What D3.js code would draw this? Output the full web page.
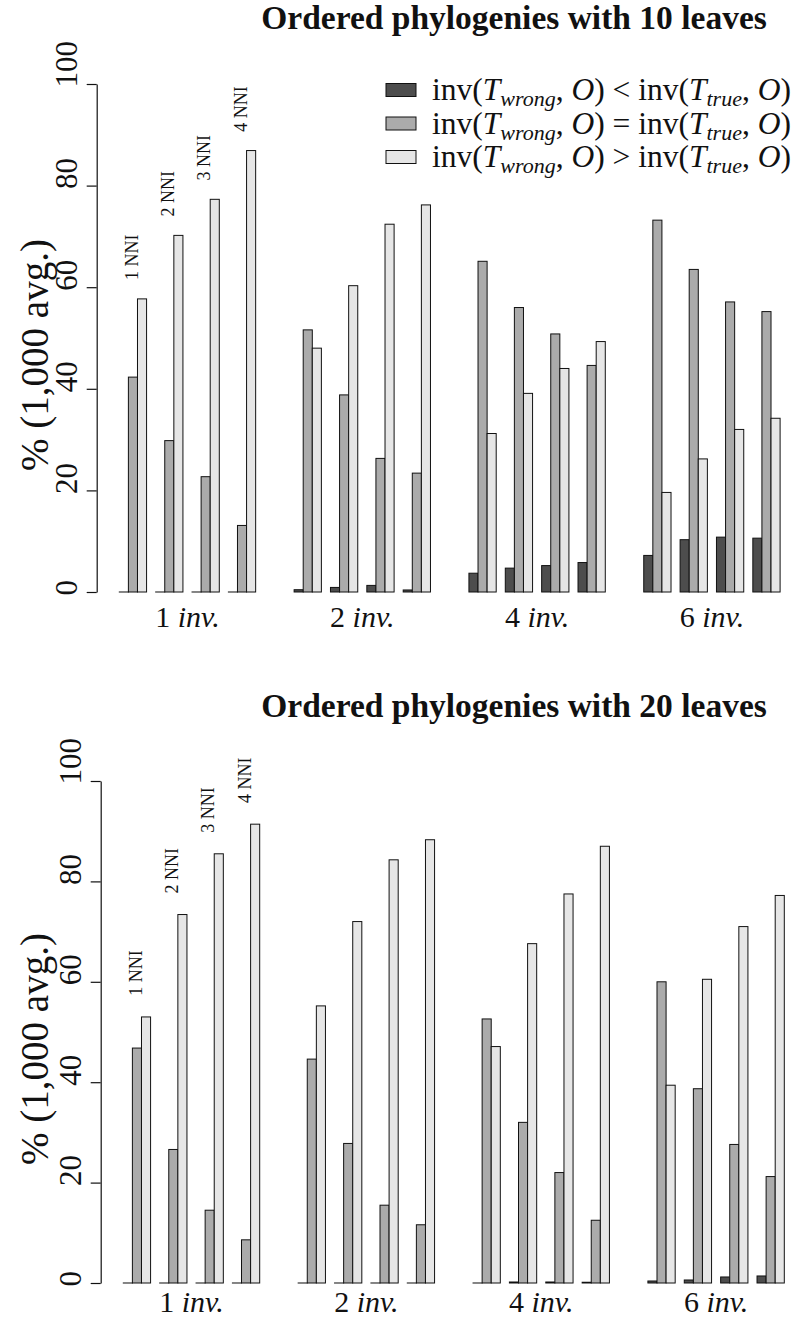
<!DOCTYPE html>
<html>
<head>
<meta charset="utf-8">
<script src="https://cdn.jsdelivr.net/npm/d3@7/dist/d3.min.js"></script>
<style>
  body { margin: 0; background: #fff; }
  text { font-family: "Liberation Serif", "Times New Roman", serif; fill: #111; }
</style>
</head>
<body>
<script>

var groups = ["1", "2", "4", "6"];            // number of inversions
var nni = ["1 NNI", "2 NNI", "3 NNI", "4 NNI"];
var series = ["less", "equal", "greater"];
var yTicks = [0, 20, 40, 60, 80, 100];

// 10 leaves, rows = inversions, cols = NNI
var less10 = [[0, 0, 0, 0], [0.45, 0.9, 1.3, 0.4], [3.7, 4.7, 5.2, 5.8], [7.2, 10.3, 10.8, 10.6]];
var equal10 = [[42.3, 29.8, 22.7, 13.1], [51.6, 38.8, 26.3, 23.4], [65.1, 56.0, 50.8, 44.6], [73.2, 63.5, 57.1, 55.2]];
var greater10 = [[57.7, 70.2, 77.3, 86.9], [48.0, 60.3, 72.4, 76.2], [31.2, 39.1, 44.0, 49.3], [19.6, 26.2, 32.0, 34.2]];

// 20 leaves
var less20 = [[0, 0, 0, 0], [0, 0, 0, 0], [0, 0.2, 0.2, 0.15], [0.4, 0.6, 1.2, 1.4]];
var equal20 = [[46.8, 26.6, 14.5, 8.6], [44.6, 27.8, 15.5, 11.6], [52.6, 32.0, 22.0, 12.5], [60.0, 38.7, 27.6, 21.2]];
var greater20 = [[53.0, 73.4, 85.5, 91.4], [55.2, 72.0, 84.3, 88.3], [47.1, 67.6, 77.5, 87.0], [39.4, 60.5, 71.0, 77.2]];

var colors = ["#4d4d4d", "#ababab", "#e6e6e6"];

var svg = d3.select("body").append("svg")
    .attr("width", 807)
    .attr("height", 1318);

svg.append("rect").attr("width", 807).attr("height", 1318).attr("fill", "#fff");

var panels = [{
    title: "Ordered phylogenies with 10 leaves",
    data: [less10, equal10, greater10],
    titleY: 29, yBase: 592, yTop: 84, axisX: 96.7, x0: 119.3, x1: 780.1,
    labelY: 627, nniOffset: 3.7, legend: true
}, {
    title: "Ordered phylogenies with 20 leaves",
    data: [less20, equal20, greater20],
    titleY: 717, yBase: 1283, yTop: 781, axisX: 100.7, x0: 123.3, x1: 784.3,
    labelY: 1312, nniOffset: 4.2, legend: false
}];

panels.forEach(drawPanel);

function drawPanel(p) {

    var y = d3.scaleLinear().domain([0, 100]).range([p.yBase, p.yTop]);
    var gx = d3.scaleBand().domain(groups).range([p.x0, p.x1]).paddingInner(0.22);
    var cx = d3.scaleBand().domain(nni).range([0, gx.bandwidth()]).paddingInner(0.25);
    var bx = d3.scaleBand().domain(series).range([0, cx.bandwidth()]);

    var g = svg.append("g");

    groups.forEach(function(gr, gi) {
        var cg = g.append("g").attr("transform", "translate(" + gx(gr) + ",0)");
        nni.forEach(function(n, ni) {
            series.forEach(function(s, si) {
                var v = p.data[si][gi][ni];
                // zero bars still show as a flat outline, like R does
                var h = Math.max(y(0) - y(v), 0.01);
                cg.append("rect")
                    .attr("x", cx(n) + bx(s))
                    .attr("y", y(0) - h)
                    .attr("width", bx.bandwidth())
                    .attr("height", h)
                    .attr("fill", colors[si])
                    .attr("stroke", "#111")
                    .attr("stroke-width", 1);
            });
            // NNI labels only above the first group
            if (gi == 0) {
                var lx = cx(n) + bx("equal") + bx.bandwidth() / 2 - 1.5;
                var ly = y(p.data[2][gi][ni] + p.nniOffset);
                cg.append("text")
                    .attr("transform", "translate(" + lx + "," + ly + ") rotate(-90)")
                    .attr("text-anchor", "start")
                    .attr("dy", "0.35em")
                    .style("font-size", "18px")
                    .text(n);
            }
        });

        // group label "1 inv."
        var lab = g.append("text")
            .attr("x", gx(gr) + gx.bandwidth() / 2)
            .attr("y", p.labelY)
            .attr("text-anchor", "middle")
            .style("font-size", "30px");
        lab.append("tspan").text(gr + " ");
        lab.append("tspan").style("font-style", "italic").text("inv.");
    });

    // y axis
    var ax = g.append("g")
        .attr("transform", "translate(" + p.axisX + ",0)")
        .call(d3.axisLeft(y).tickValues(yTicks).tickSize(10).tickSizeOuter(0));

    ax.select(".domain").attr("stroke", "#111").attr("stroke-width", 1.2);
    ax.selectAll(".tick line").attr("stroke", "#111").attr("stroke-width", 1.2);
    ax.selectAll(".tick text")
        .attr("x", null).attr("dy", null)
        .attr("transform", "translate(-20,3) rotate(-90)")
        .attr("text-anchor", "start")
        .attr("fill", "#111")
        .style("font-family", "'Liberation Serif', serif")
        .style("font-size", "31px");

    // y title
    g.append("text")
        .attr("transform", "translate(48," + ((p.yBase + p.yTop) / 2 + 17) + ") rotate(-90)")
        .attr("text-anchor", "middle")
        .style("font-size", "39px")
        .text("% (1,000 avg.)");

    // title
    svg.append("text")
        .attr("x", 514)
        .attr("y", p.titleY)
        .attr("text-anchor", "middle")
        .style("font-size", "33.5px")
        .style("font-weight", "bold")
        .text(p.title);

    if (p.legend) drawLegend();
}

function drawLegend() {
    var ops = ["<", "=", ">"];
    var lg = svg.append("g");
    ops.forEach(function(op, i) {
        var ry = 90 + i * 33.5;
        lg.append("rect")
            .attr("x", 386).attr("y", ry - 6.5)
            .attr("width", 30).attr("height", 13)
            .attr("fill", colors[i])
            .attr("stroke", "#111");
        var t = lg.append("text")
            .attr("x", 432).attr("y", ry + 10)
            .style("font-size", "31.5px");
        t.append("tspan").text("inv(");
        t.append("tspan").style("font-style", "italic").text("T");
        t.append("tspan").style("font-style", "italic").style("font-size", "22px").attr("dy", 6).text("wrong");
        t.append("tspan").attr("dy", -6).text(", ");
        t.append("tspan").style("font-style", "italic").text("O");
        t.append("tspan").text(") " + op + " inv(");
        t.append("tspan").style("font-style", "italic").text("T");
        t.append("tspan").style("font-style", "italic").style("font-size", "22px").attr("dy", 6).text("true");
        t.append("tspan").attr("dy", -6).text(", ");
        t.append("tspan").style("font-style", "italic").text("O");
        t.append("tspan").text(")");
    });
}

</script>
</body>
</html>
